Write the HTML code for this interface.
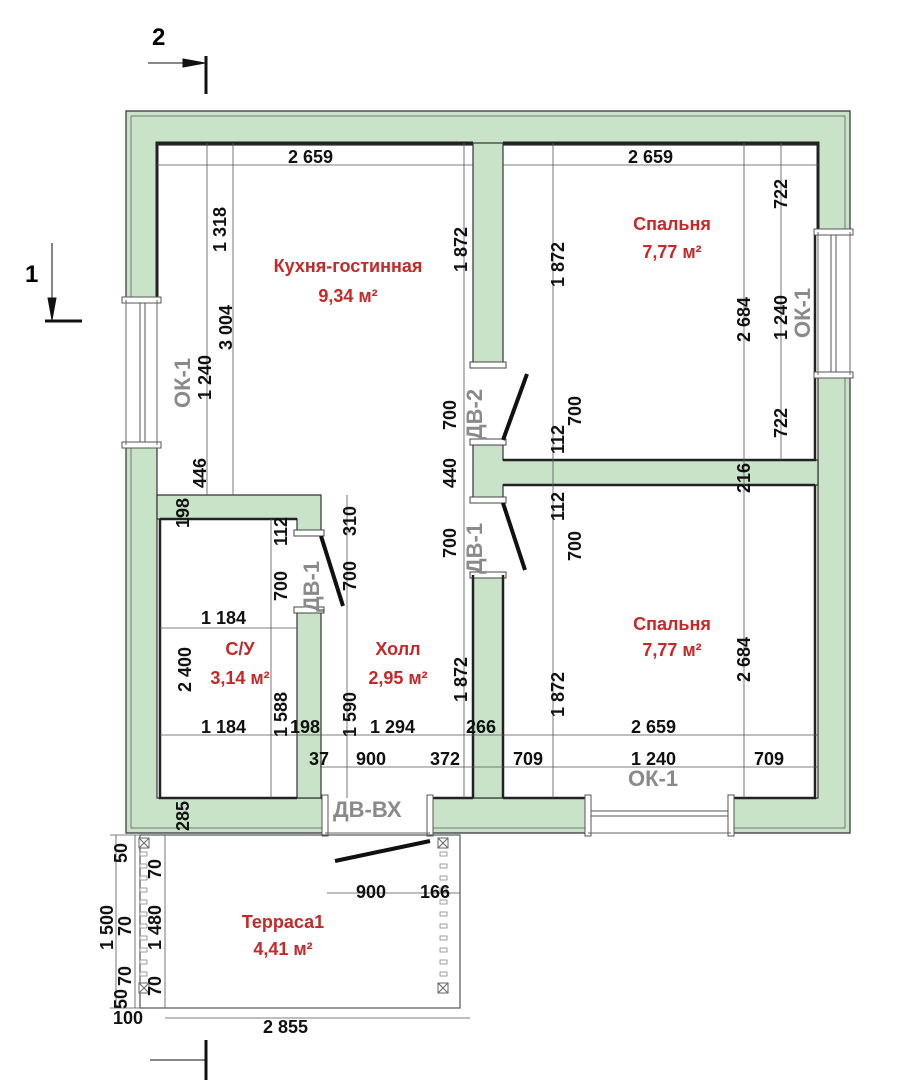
<!DOCTYPE html>
<html><head><meta charset="utf-8"><style>
html,body{margin:0;padding:0;background:#fff}
svg{display:block}
text{font-family:"Liberation Sans","DejaVu Sans",sans-serif;font-weight:bold}
.d{font-size:18px;fill:#111}
.r{font-size:18px;fill:#c62828;text-anchor:middle}
.g{font-size:22px;fill:#8a8a8a}
.w{fill:#c9e3c9;stroke:#333;stroke-width:1.2}
.dl{stroke:#555;stroke-width:0.8;fill:none}
</style></head><body>
<svg width="919" height="1080" viewBox="0 0 919 1080">
<g>
<path class="w" d="M126 111 H850 V232 H818 V145 H157 V300 H126 Z"/>
<path class="w" d="M818 375 H850 V833 H731 V798 H818 Z"/>
<path class="w" d="M126 445 H157 V798 H325 V833 H126 Z"/>
<path class="w" d="M430 798 H588 V833 H430 Z"/>
<path d="M131 116 H845 V232 M845 375 V828 H731 M588 828 H430 M325 828 H131 V445 M131 300 V116" fill="none" stroke="#777" stroke-width="1"/>
<path d="M157 300 V143 H473 M503 143 H818 V232" fill="none" stroke="#222" stroke-width="3"/>
<rect class="w" x="473" y="143" width="30" height="222"/>
<rect x="470" y="362" width="36" height="6" fill="#fff" stroke="#444"/>
<path class="w" d="M473 442 H503 V460 H818 V485 H503 V500 H473 Z"/>
<rect x="470" y="439" width="36" height="6" fill="#fff" stroke="#444"/>
<rect x="470" y="497" width="36" height="6" fill="#fff" stroke="#444"/>
<rect class="w" x="473" y="575" width="30" height="223"/>
<rect x="470" y="572" width="36" height="6" fill="#fff" stroke="#444"/>
<path class="w" d="M157 495 H321 V533 H297 V519 H157 Z"/>
<rect x="294" y="530" width="30" height="6" fill="#fff" stroke="#444"/>
<rect class="w" x="297" y="610" width="24" height="188"/>
<rect x="294" y="607" width="30" height="6" fill="#fff" stroke="#444"/>
<path d="M160 519 V798 H297 M160 519 H297 M321 798 H325 M430 798 H473 M503 798 H588 M731 798 H815 V485 M503 485 H815 M503 460 H815 V232 M503 575 V798 M473 575 V798" fill="none" stroke="#222" stroke-width="2.5"/>
<g fill="#fff" stroke="#555">
<rect x="122" y="297" width="39" height="6"/><rect x="122" y="442" width="39" height="6"/>
<rect x="140" y="303" width="5" height="139"/>
<rect x="814" y="229" width="39" height="6"/><rect x="814" y="372" width="39" height="6"/>
<rect x="831" y="235" width="5" height="137"/>
<rect x="585" y="795" width="6" height="41"/><rect x="728" y="795" width="6" height="41"/>
<rect x="591" y="811" width="137" height="5"/>
<rect x="322" y="795" width="6" height="41"/><rect x="427" y="795" width="6" height="41"/>
</g>
<line x1="126" y1="300" x2="126" y2="445" stroke="#666"/><line x1="157" y1="300" x2="157" y2="445" stroke="#666"/>
<line x1="818" y1="232" x2="818" y2="375" stroke="#666"/><line x1="850" y1="232" x2="850" y2="375" stroke="#666"/>
<line x1="588" y1="833" x2="731" y2="833" stroke="#666"/>
<line x1="325" y1="833" x2="430" y2="833" stroke="#666"/>
</g>
<g stroke="#111" stroke-width="4" stroke-linecap="butt">
<line x1="503" y1="440" x2="527" y2="374"/>
<line x1="503" y1="503" x2="525" y2="570"/>
<line x1="321" y1="536" x2="343" y2="606"/>
<line x1="430" y1="841" x2="335" y2="861"/>
</g>
<rect x="140" y="835" width="320" height="173" fill="none" stroke="#555" stroke-width="1.2"/>
<g fill="#fff" stroke="#666" stroke-width="1">
<rect x="139" y="838" width="10" height="10"/><rect x="139" y="983" width="10" height="10"/>
<rect x="438" y="838" width="10" height="10"/><rect x="438" y="983" width="10" height="10"/>
</g>
<g stroke="#666" fill="none">
<path d="M139 838 l10 10 M149 838 l-10 10 M139 983 l10 10 M149 983 l-10 10 M438 838 l10 10 M448 838 l-10 10 M438 983 l10 10 M448 983 l-10 10"/>
</g>
<g fill="#fff" stroke="#888" stroke-width="0.8">
<rect x="140" y="852" width="7" height="4"/><rect x="140" y="864" width="7" height="4"/><rect x="140" y="876" width="7" height="4"/><rect x="140" y="888" width="7" height="4"/><rect x="140" y="900" width="7" height="4"/><rect x="140" y="912" width="7" height="4"/><rect x="140" y="924" width="7" height="4"/><rect x="140" y="936" width="7" height="4"/><rect x="140" y="948" width="7" height="4"/><rect x="140" y="960" width="7" height="4"/><rect x="140" y="972" width="7" height="4"/>
<rect x="440" y="852" width="7" height="4"/><rect x="440" y="864" width="7" height="4"/><rect x="440" y="876" width="7" height="4"/><rect x="440" y="888" width="7" height="4"/><rect x="440" y="900" width="7" height="4"/><rect x="440" y="912" width="7" height="4"/><rect x="440" y="924" width="7" height="4"/><rect x="440" y="936" width="7" height="4"/><rect x="440" y="948" width="7" height="4"/><rect x="440" y="960" width="7" height="4"/><rect x="440" y="972" width="7" height="4"/>
</g>
<g class="dl">
<path d="M157 165 H473 M503 165 H818"/>
<path d="M207 143 V495 M233 143 V495 M464 143 V798 M553 143 V798 M744 143 V798 M781 143 V460"/>
<path d="M271 519 V798 M347 495 V798"/>
<path d="M160 735 H818 M320 767 H818 M160 628 H297"/>
<path d="M327 893 H460 M165 1018 H470 M116 835 V1008 M135 835 V1008 M165 835 V1008"/>
<path d="M110 835 H175 M110 1008 H175"/>
</g>
<g stroke="#111">
<line x1="148" y1="63" x2="205" y2="63" stroke-width="1"/>
<polygon points="205,63 183,59 183,67" fill="#111"/>
<line x1="206" y1="56" x2="206" y2="94" stroke-width="3"/>
<line x1="52" y1="243" x2="52" y2="320" stroke-width="1"/>
<polygon points="52,320 48,298 56,298" fill="#111"/>
<line x1="45" y1="321" x2="82" y2="321" stroke-width="3"/>
<line x1="150" y1="1060" x2="205" y2="1060" stroke-width="1"/>
<line x1="206" y1="1040" x2="206" y2="1080" stroke-width="3"/>
</g>
<text x="152" y="45" style="font-size:24px">2</text>
<text x="25" y="282" style="font-size:24px">1</text>
<text class="r" x="348" y="272">Кухня-гостинная</text>
<text class="r" x="348" y="302">9,34 м²</text>
<text class="r" x="672" y="230">Спальня</text>
<text class="r" x="672" y="258">7,77 м²</text>
<text class="r" x="672" y="630">Спальня</text>
<text class="r" x="672" y="656">7,77 м²</text>
<text class="r" x="240" y="655">С/У</text>
<text class="r" x="240" y="684">3,14 м²</text>
<text class="r" x="398" y="655">Холл</text>
<text class="r" x="398" y="684">2,95 м²</text>
<text class="r" x="283" y="928">Терраса1</text>
<text class="r" x="283" y="955">4,41 м²</text>
<text class="g" transform="translate(190,408) rotate(-90)">ОК-1</text>
<text class="g" transform="translate(482,440) rotate(-90)">ДВ-2</text>
<text class="g" transform="translate(482,574) rotate(-90)">ДВ-1</text>
<text class="g" transform="translate(319,612) rotate(-90)">ДВ-1</text>
<text class="g" transform="translate(810,338) rotate(-90)">ОК-1</text>
<text class="g" x="628" y="786">ОК-1</text>
<text class="g" x="333" y="817">ДВ-ВХ</text>
<g class="d">
<text x="288" y="163">2 659</text><text x="628" y="163">2 659</text>
<text x="201" y="624">1 184</text>
<text x="201" y="733">1 184</text><text x="290" y="733">198</text><text x="370" y="733">1 294</text><text x="466" y="733">266</text><text x="631" y="733">2 659</text>
<text x="309" y="765">37</text><text x="356" y="765">900</text><text x="430" y="765">372</text>
<text x="513" y="765">709</text><text x="631" y="765">1 240</text><text x="754" y="765">709</text>
<text x="356" y="898">900</text><text x="420" y="898">166</text>
<text x="263" y="1033">2 855</text><text x="113" y="1024">100</text>
</g>
<g class="d">
<text transform="translate(226,252) rotate(-90)">1 318</text>
<text transform="translate(232,350) rotate(-90)">3 004</text>
<text transform="translate(211,400) rotate(-90)">1 240</text>
<text transform="translate(206,488) rotate(-90)">446</text>
<text transform="translate(189,528) rotate(-90)">198</text>
<text transform="translate(287,546) rotate(-90)">112</text>
<text transform="translate(287,601) rotate(-90)">700</text>
<text transform="translate(191,692) rotate(-90)">2 400</text>
<text transform="translate(287,737) rotate(-90)">1 588</text>
<text transform="translate(356,536) rotate(-90)">310</text>
<text transform="translate(356,591) rotate(-90)">700</text>
<text transform="translate(356,737) rotate(-90)">1 590</text>
<text transform="translate(467,272) rotate(-90)">1 872</text>
<text transform="translate(456,430) rotate(-90)">700</text>
<text transform="translate(456,488) rotate(-90)">440</text>
<text transform="translate(456,558) rotate(-90)">700</text>
<text transform="translate(467,702) rotate(-90)">1 872</text>
<text transform="translate(564,287) rotate(-90)">1 872</text>
<text transform="translate(564,454) rotate(-90)">112</text>
<text transform="translate(581,426) rotate(-90)">700</text>
<text transform="translate(564,521) rotate(-90)">112</text>
<text transform="translate(581,561) rotate(-90)">700</text>
<text transform="translate(564,717) rotate(-90)">1 872</text>
<text transform="translate(750,342) rotate(-90)">2 684</text>
<text transform="translate(750,493) rotate(-90)">216</text>
<text transform="translate(750,682) rotate(-90)">2 684</text>
<text transform="translate(787,209) rotate(-90)">722</text>
<text transform="translate(787,340) rotate(-90)">1 240</text>
<text transform="translate(787,438) rotate(-90)">722</text>
<text transform="translate(189,831) rotate(-90)">285</text>
<text transform="translate(127,863) rotate(-90)">50</text>
<text transform="translate(161,879) rotate(-90)">70</text>
<text transform="translate(113,950) rotate(-90)">1 500</text>
<text transform="translate(131,936) rotate(-90)">70</text>
<text transform="translate(161,950) rotate(-90)">1 480</text>
<text transform="translate(131,986) rotate(-90)">70</text>
<text transform="translate(127,1009) rotate(-90)">50</text>
<text transform="translate(161,996) rotate(-90)">70</text>
</g>
</svg>
</body></html>
